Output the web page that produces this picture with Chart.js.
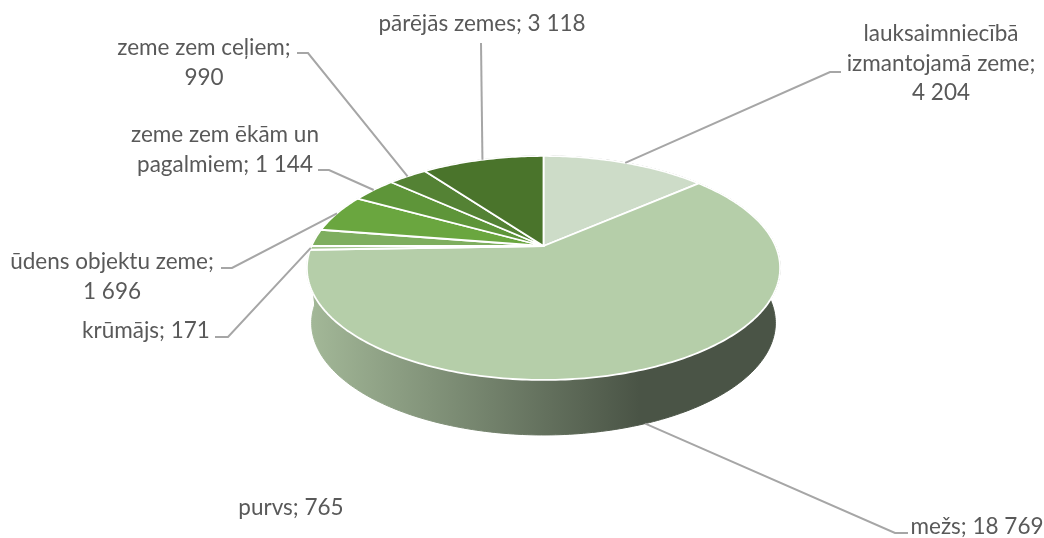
<!DOCTYPE html>
<html>
<head>
<meta charset="utf-8">
<style>
  html, body { margin: 0; background: #fff; }
  canvas { display: block; }
</style>
<script src="https://cdn.jsdelivr.net/npm/chart.js@4"></script>
</head>
<body>
<canvas id="chart" width="1044" height="538"></canvas>
<script>
const categories = ['lauksaimniecībā izmantojamā zeme', 'mežs', 'krūmājs', 'purvs', 'ūdens objektu zeme', 'zeme zem ēkām un pagalmiem', 'zeme zem ceļiem', 'pārējās zemes'];
const areas = [4204, 18769, 171, 765, 1696, 1144, 990, 3118];
const sliceColors = ['#cddcc8', '#b5cea9', '#a5c592', '#7eae5f', '#6aa63f', '#5e9539', '#548234', '#4a742b'];

// label text, centre x and middle y of each line, and where its leader leaves the text
const labelLines = [
  ['lauksaimniecībā', 'izmantojamā zeme;', '4 204'],
  ['mežs; 18 769'],
  ['krūmājs; 171'],
  ['purvs; 765'],
  ['ūdens objektu zeme;', '1 696'],
  ['zeme zem ēkām un', 'pagalmiem; 1 144'],
  ['zeme zem ceļiem;', '990'],
  ['pārējās zemes; 3 118']
];
const labelPlaces = [[941, 34], [977, 527], [146, 331], [291, 508], [112, 262], [225, 135], [204, 48], [482, 24]];
const leaderPaths = [
  [[841, 72], [830, 72]],
  [[908, 533], [895, 533]],
  [[215, 337], [228, 337]],
  null,
  [[221, 268], [232, 268]],
  [[318, 170], [329, 170]],
  [[297, 53], [308, 53]],
  [[481, 43]]
];

// excel style 3d pie: the disc is a perspective projection of a circle
const apex = { x: 543.5, y: 246 };
const tilt = -0.196, spanX = 232, spanY = 107.7;
const wallScale = 0.98, wallDrop = 55;

function topPoint(angle) {
  const a = angle + Math.PI / 2; // chart.js starts at -PI/2, 0 here is the top
  const x = Math.sin(a), y = -Math.cos(a);
  const d = 1 + tilt * y;
  return [spanX * x / d, spanY * y / d];
}
function arcPoints(start, end) {
  const n = Math.max(2, Math.ceil((end - start) * 60));
  const pts = [];
  for (let i = 0; i <= n; i++) pts.push(topPoint(start + (end - start) * i / n));
  return pts;
}

const pie3d = {
  id: 'pie3d',
  beforeDatasetsDraw(chart) {
    const ctx = chart.ctx;
    const arcs = chart.getDatasetMeta(0).data;

    ctx.save();
    ctx.translate(apex.x, apex.y);

    // side wall
    const wall = ctx.createLinearGradient(-234, 0, 96, 0);
    wall.addColorStop(0, '#a3b898');
    wall.addColorStop(1, '#4a5446');
    arcs.forEach(arc => {
      const pts = arcPoints(arc.startAngle, arc.endAngle);
      ctx.beginPath();
      pts.forEach((p, i) => { if (i === 0) ctx.moveTo(p[0], p[1]); else ctx.lineTo(p[0], p[1]); });
      pts.slice().reverse().forEach(p => ctx.lineTo(p[0] * wallScale, p[1] + wallDrop));
      ctx.closePath();
      ctx.fillStyle = wall;
      ctx.fill();
      ctx.strokeStyle = wall;
      ctx.lineWidth = 1;
      ctx.stroke();
    });

    // top faces
    arcs.forEach(arc => {
      ctx.beginPath();
      ctx.moveTo(0, 0);
      arcPoints(arc.startAngle, arc.endAngle).forEach(p => ctx.lineTo(p[0], p[1]));
      ctx.closePath();
      ctx.fillStyle = arc.options.backgroundColor;
      ctx.fill();
      ctx.strokeStyle = '#fff';
      ctx.lineWidth = 1.8;
      ctx.lineJoin = 'round';
      ctx.stroke();
    });
    ctx.restore();

    // leaders end on the middle of their slice, mežs on the wall below it
    ctx.save();
    ctx.strokeStyle = '#a6a6a6';
    ctx.lineWidth = 2;
    arcs.forEach((arc, i) => {
      const path = leaderPaths[i];
      if (!path) return;
      const mid = topPoint((arc.startAngle + arc.endAngle) / 2);
      const front = mid[1] > 100;
      const endX = apex.x + (front ? mid[0] * wallScale : mid[0]);
      const endY = apex.y + (front ? mid[1] + wallDrop : mid[1]);
      ctx.beginPath();
      path.forEach((p, j) => { if (j === 0) ctx.moveTo(p[0], p[1]); else ctx.lineTo(p[0], p[1]); });
      ctx.lineTo(endX, endY);
      ctx.stroke();
    });
    ctx.restore();

    // data labels
    ctx.save();
    ctx.font = '22.5px Lato';
    ctx.fillStyle = '#595959';
    ctx.textAlign = 'center';
    ctx.textBaseline = 'middle';
    labelLines.forEach((lines, i) => {
      lines.forEach((line, j) => ctx.fillText(line, labelPlaces[i][0], labelPlaces[i][1] + j * 29.5));
    });
    ctx.restore();

    return false; // the default flat arcs are replaced by the ones above
  }
};

new Chart(document.getElementById('chart'), {
  type: 'pie',
  data: {
    labels: categories,
    datasets: [{ data: areas, backgroundColor: sliceColors, borderColor: '#fff' }]
  },
  options: {
    responsive: false,
    animation: false,
    events: [],
    plugins: { legend: { display: false }, tooltip: { enabled: false } }
  },
  plugins: [pie3d]
});
</script>
</body>
</html>
